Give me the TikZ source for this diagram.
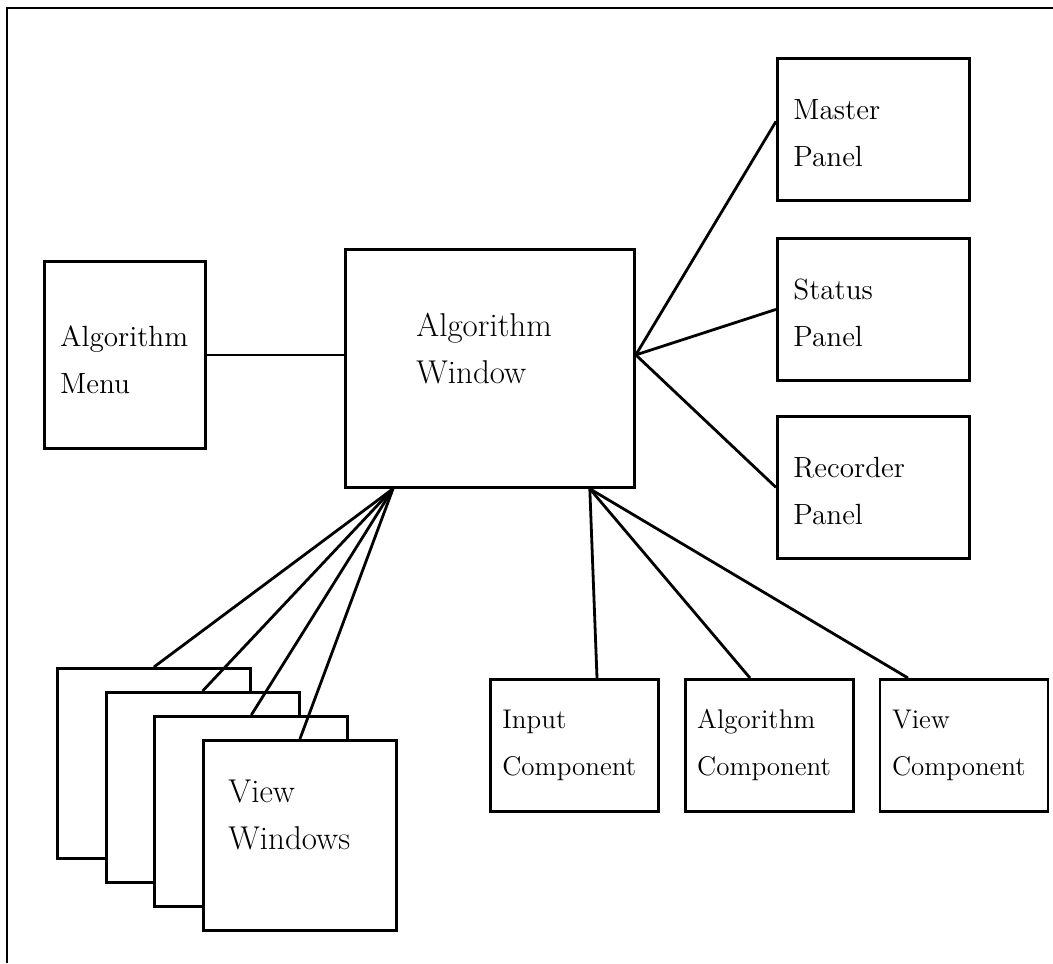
\documentclass[tikz,border=0pt]{standalone}
\usetikzlibrary{positioning}
\begin{document}
\begin{tikzpicture}[x=0.5pt, y=-0.5pt]
    % Define styles
    \tikzstyle{box}=[rectangle, draw=black, line width=1.4pt, fill=white, anchor=north west, align=left, inner sep=0pt]
    \tikzstyle{bigtxt}=[font=\fontsize{16.5}{23.5}\selectfont]
    \tikzstyle{midtxt}=[font=\fontsize{14.6}{23.5}\selectfont]
    \tikzstyle{smalltxt}=[font=\fontsize{13.5}{23.5}\selectfont]
    \tikzstyle{panel}=[box, midtxt, minimum width=96pt, minimum height=71pt, text width=80pt]
    \tikzstyle{comp}=[box, smalltxt, minimum width=84pt, minimum height=66pt, text width=72pt]
    \tikzstyle{viewbox}=[box, minimum width=96.5pt, minimum height=95pt]
    \tikzstyle{link}=[line width=1.4pt]

    \useasboundingbox (0,0) rectangle (1053,963);
    % Frame
    \draw[link] (1053,8) -| (7,963);

    % Algorithm menu and window
    \node[box, midtxt, minimum width=80.5pt, minimum height=93.5pt, text width=64.7pt] (menu) at (43,260) {\rule{0pt}{15.5pt}Algorithm\\Menu};
    \node[box, bigtxt, minimum width=144.5pt, minimum height=119pt, text width=73.5pt] (win) at (344,248) {Algorithm\\Window\rule[-20pt]{0pt}{0pt}};

    % Panels
    \node[panel] (master) at (776,57) {\rule{0pt}{14pt}Master\\Panel};
    \node[panel, below=17.6pt of master] (status) {\rule{0pt}{14pt}Status\\Panel};
    \node[panel, below=16.6pt of status] (recorder) {\rule{0pt}{14pt}Recorder\\Panel};

    % Components
    \node[comp] (input) at (489,678) {Input\\Component};
    \node[comp, right=12pt of input] (algcomp) {Algorithm\\Component};
    \node[comp, right=12pt of algcomp] (viewcomp) {View\\Component};

    % View windows (stacked)
    \foreach \i in {1,2,3}
        \node[viewbox] (view\i) at ({56+48.7*(\i-1)}, {667+24*(\i-1)}) {};
    \node[viewbox, bigtxt, text width=71.5pt] (view4) at (202,739) {View\\Windows\rule[-21pt]{0pt}{0pt}};

    % Connections
    \coordinate (hub) at (win.east |- menu.east);
    \coordinate (fanL) at ([xshift=24.5pt]win.south west);
    \coordinate (fanR) at ([xshift=-23pt]win.south east);
    \draw[link] (menu.east) -- (win.west |- menu.east);
    \draw[link] (hub) -- ([yshift=4pt]master.west);
    \draw[link] (hub) -- (status.west);
    \draw[link] (hub) -- (recorder.west);
    \foreach \i in {1,...,4}
        \draw[link] (fanL) -- (view\i.north);
    \draw[link] (fanR) -- (597,0 |- input.north);
    \draw[link] (fanR) -- (750,0 |- algcomp.north);
    \draw[link] (fanR) -- (908,0 |- viewcomp.north);
\end{tikzpicture}
\end{document}
